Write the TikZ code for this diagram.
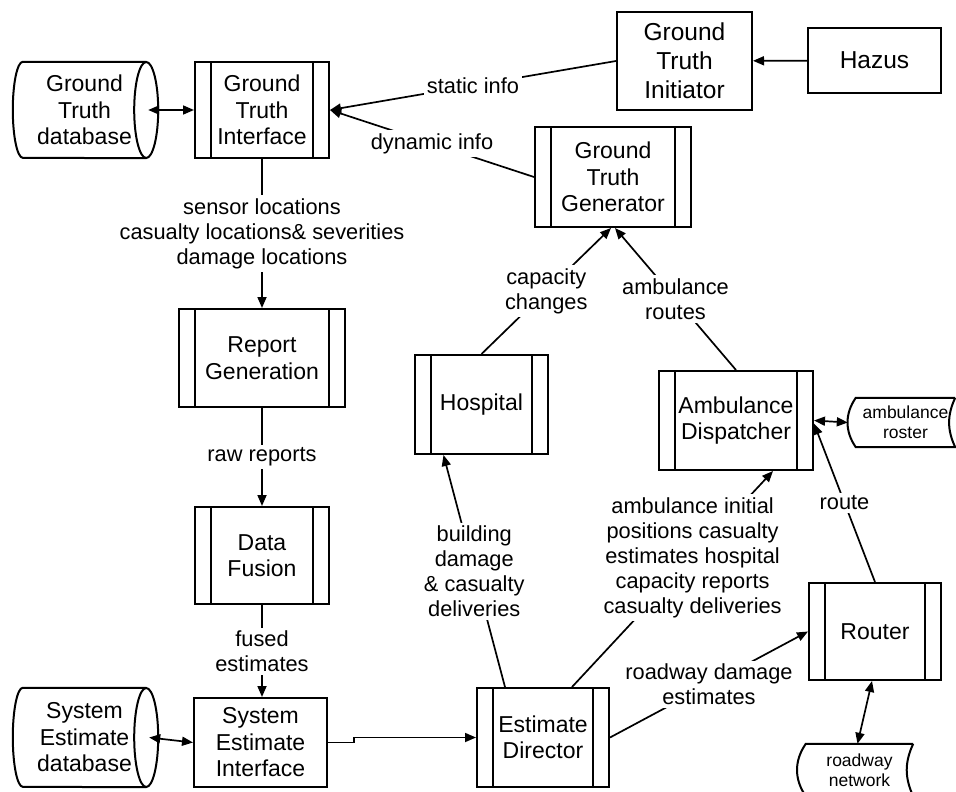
\documentclass[tikz,border=0pt]{standalone}
\usepackage{fontspec}
\setmainfont{Liberation Sans}
\usetikzlibrary{arrows.meta,positioning}

\begin{document}
\begin{tikzpicture}[x=1pt, y=-1pt, every node/.style={align=center}, box/.style={draw, line width=2pt, inner sep=0pt, font=\fontsize{23}{26.5}\selectfont}, big/.style={box, font=\fontsize{24.5}{29}\selectfont}, proc/.style={box, path picture={\draw[line width=2pt] ([xshift=16pt]path picture bounding box.north west) -- ([xshift=16pt]path picture bounding box.south west) ([xshift=-16pt]path picture bounding box.north east) -- ([xshift=-16pt]path picture bounding box.south east);}}, db/.style={inner sep=0pt, font=\fontsize{23}{26.5}\selectfont}, store/.style={inner sep=0pt, font=\fontsize{17.5}{20}\selectfont}, outline/.style={line width=2pt}, lbl/.style={fill=white, inner sep=3pt, font=\fontsize{21.8}{25}\selectfont}, arrow/.style={-{Triangle[length=11pt,width=9pt]}, line width=1.7pt}, both/.style={{Triangle[length=11pt,width=9pt]}-{Triangle[length=11pt,width=9pt]}, line width=1.7pt}]
\useasboundingbox (0,0) rectangle (956,792);
% top row
\node[db, minimum width=123pt, minimum height=96pt] (gtdb) at (84.5,110) {Ground\\Truth\\database};
\node[proc, minimum width=134pt, minimum height=96pt] (gtif) at (262,110) {Ground\\Truth\\Interface};
\node[big, minimum width=135pt, minimum height=98pt] (init) at (684.5,61) {Ground\\Truth\\Initiator};
\node[big, minimum width=133pt, minimum height=65pt] (hazus) at (874.5,60.5) {Hazus};
\node[proc, minimum width=156pt, minimum height=100pt] (gen) at (613,177) {Ground\\Truth\\Generator};
% left column
\node[proc, minimum width=166pt, minimum height=98pt] (rep) at (262,358) {Report\\Generation};
\node[proc, minimum width=134pt, minimum height=97pt] (fus) at (262,555.5) {Data\\Fusion};
\node[db, minimum width=123pt, minimum height=99pt] (sedb) at (84.5,737.5) {System\\Estimate\\database};
\node[box, minimum width=133pt, minimum height=89pt] (seif) at (260.5,742.5) {System\\Estimate\\Interface};
% right part
\node[proc, minimum width=132pt, minimum height=99pt] (dir) at (543,737.5) {Estimate\\Director};
\node[proc, minimum width=133pt, minimum height=99pt] (hosp) at (481.5,404.5) {Hospital};
\node[proc, minimum width=154pt, minimum height=99pt] (disp) at (736,420.5) {Ambulance\\Dispatcher};
\node[store, minimum width=99pt, minimum height=49pt] (roster) at (905.5,422.5) {ambulance\\roster};
\node[proc, minimum width=132pt, minimum height=97pt] (router) at (875,631.5) {Router};
\node[store, minimum width=107pt, minimum height=52pt] (road) at (859.5,770) {roadway\\network};

% database and storage outlines
\draw[outline] (gtdb.north east) -- (gtdb.north west) arc[start angle=90, end angle=270, x radius=10pt, y radius=48pt] -- (gtdb.south east);
\draw[outline] (gtdb.east) ellipse[x radius=12pt, y radius=48pt];
\draw[outline] (sedb.north east) -- (sedb.north west) arc[start angle=90, end angle=270, x radius=10pt, y radius=49.5pt] -- (sedb.south east);
\draw[outline] (sedb.east) ellipse[x radius=12pt, y radius=49.5pt];
\draw[outline] (roster.north east) -- (roster.north west) to[bend right=35] (roster.south west) -- (roster.south east) to[bend left=25] (roster.north east);
\draw[outline] (road.north east) -- (road.north west) to[bend right=35] (road.south west) -- (road.south east) to[bend left=25] (road.north east);

% flows
\draw[arrow] (hazus) -- (init);
\draw[arrow] (init.west) -- node[lbl]{static info} (gtif.east);
\draw[arrow] (gen.west) -- node[lbl]{dynamic info} (gtif.east);
\draw[both] ([xshift=2pt]gtdb.east) -- (gtif.west);
\draw[arrow] (gtif) -- node[lbl]{sensor locations\\casualty locations\& severities\\damage locations} (rep);
\draw[arrow] (rep) -- node[lbl]{raw reports} (fus);
\draw[arrow] (fus.south) -- node[lbl]{fused\\estimates} (fus.south |- seif.north);
\draw[both] ([xshift=3pt]sedb.east) -- (seif.west);
\draw[arrow] (seif.east) -- ++(26,0) |- (dir.west);
\draw[arrow] ([xshift=-38pt]dir.north) -- node[lbl]{building\\damage\\\& casualty\\deliveries} ([xshift=-38pt]hosp.south);
\draw[arrow] ([xshift=29pt]dir.north) -- node[lbl, pos=0.6]{ambulance initial\\positions casualty\\estimates hospital\\capacity reports\\casualty deliveries} ([xshift=37pt]disp.south);
\draw[arrow] (dir.east) -- node[lbl]{roadway damage\\estimates} (router.west);
\draw[arrow] (hosp.north) -- node[lbl]{capacity\\changes} ([xshift=-2pt]gen.south);
\draw[arrow] (disp.north) -- node[lbl]{ambulance\\routes} ([xshift=2pt]gen.south);
\draw[arrow] (router.north) -- node[lbl]{route} ([yshift=-3pt]disp.east);
\draw[both] (disp.east) -- ([xshift=-8pt]roster.west);
\draw[both] ([xshift=-3pt]router.south) -- ([xshift=-2pt]road.north);
\end{tikzpicture}
\end{document}
